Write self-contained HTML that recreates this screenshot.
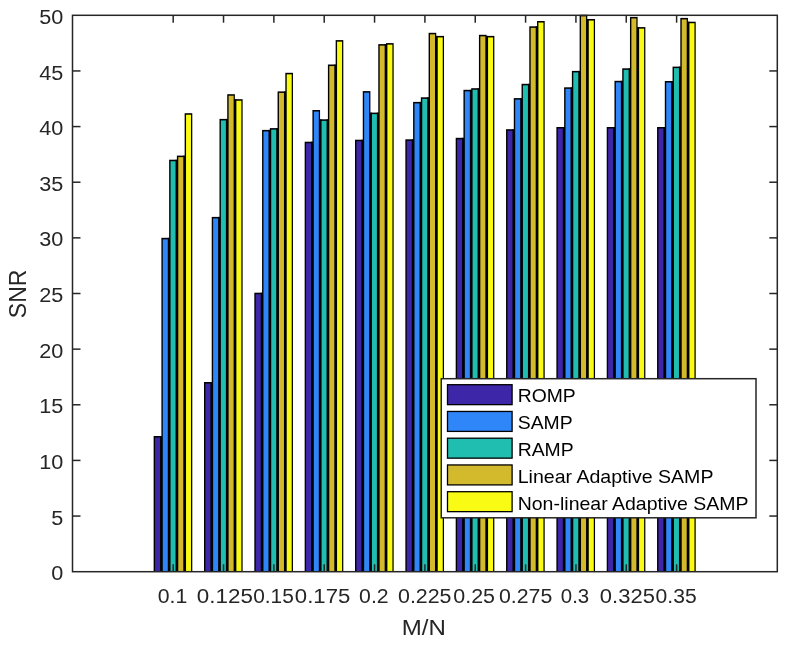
<!DOCTYPE html>
<html><head><meta charset="utf-8"><title>SNR vs M/N</title>
<style>html,body{margin:0;padding:0;background:#fff}svg{display:block;will-change:transform}text{font-family:"Liberation Sans",Arial,Helvetica,sans-serif}</style></head><body>
<svg width="788" height="645" viewBox="0 0 788 645">
<rect x="0" y="0" width="788" height="645" fill="#fff"/>
<g>
<rect x="153.64" y="436.00" width="7.65" height="135.70" fill="#000"/>
<rect x="160.04" y="436.00" width="2.75" height="135.70" fill="#000"/>
<rect x="161.39" y="237.80" width="7.65" height="333.90" fill="#000"/>
<rect x="167.79" y="237.80" width="2.75" height="333.90" fill="#000"/>
<rect x="169.14" y="159.70" width="7.65" height="412.00" fill="#000"/>
<rect x="175.54" y="159.70" width="2.75" height="412.00" fill="#000"/>
<rect x="176.89" y="155.60" width="7.65" height="416.10" fill="#000"/>
<rect x="183.29" y="155.60" width="2.75" height="416.10" fill="#000"/>
<rect x="184.64" y="113.20" width="7.65" height="458.50" fill="#000"/>
<rect x="155.04" y="437.55" width="5.00" height="134.15" fill="#3E26A8"/>
<rect x="162.79" y="239.35" width="5.00" height="332.35" fill="#2F86F8"/>
<rect x="170.54" y="161.25" width="5.00" height="410.45" fill="#1FBEB0"/>
<rect x="178.29" y="157.15" width="5.00" height="414.55" fill="#D2BA2C"/>
<rect x="186.04" y="114.75" width="5.00" height="456.95" fill="#F9FB15"/>
<rect x="203.98" y="382.00" width="7.65" height="189.70" fill="#000"/>
<rect x="210.38" y="382.00" width="2.75" height="189.70" fill="#000"/>
<rect x="211.73" y="216.90" width="7.65" height="354.80" fill="#000"/>
<rect x="218.13" y="216.90" width="2.75" height="354.80" fill="#000"/>
<rect x="219.48" y="118.90" width="7.65" height="452.80" fill="#000"/>
<rect x="225.88" y="118.90" width="2.75" height="452.80" fill="#000"/>
<rect x="227.23" y="94.20" width="7.65" height="477.50" fill="#000"/>
<rect x="233.63" y="99.20" width="2.75" height="472.50" fill="#000"/>
<rect x="234.98" y="99.20" width="7.65" height="472.50" fill="#000"/>
<rect x="205.38" y="383.55" width="5.00" height="188.15" fill="#3E26A8"/>
<rect x="213.13" y="218.45" width="5.00" height="353.25" fill="#2F86F8"/>
<rect x="220.88" y="120.45" width="5.00" height="451.25" fill="#1FBEB0"/>
<rect x="228.63" y="95.75" width="5.00" height="475.95" fill="#D2BA2C"/>
<rect x="236.38" y="100.75" width="5.00" height="470.95" fill="#F9FB15"/>
<rect x="254.32" y="292.70" width="7.65" height="279.00" fill="#000"/>
<rect x="260.72" y="292.70" width="2.75" height="279.00" fill="#000"/>
<rect x="262.07" y="129.90" width="7.65" height="441.80" fill="#000"/>
<rect x="268.47" y="129.90" width="2.75" height="441.80" fill="#000"/>
<rect x="269.82" y="128.10" width="7.65" height="443.60" fill="#000"/>
<rect x="276.22" y="128.10" width="2.75" height="443.60" fill="#000"/>
<rect x="277.57" y="91.40" width="7.65" height="480.30" fill="#000"/>
<rect x="283.97" y="91.40" width="2.75" height="480.30" fill="#000"/>
<rect x="285.32" y="72.80" width="7.65" height="498.90" fill="#000"/>
<rect x="255.72" y="294.25" width="5.00" height="277.45" fill="#3E26A8"/>
<rect x="263.47" y="131.45" width="5.00" height="440.25" fill="#2F86F8"/>
<rect x="271.22" y="129.65" width="5.00" height="442.05" fill="#1FBEB0"/>
<rect x="278.97" y="92.95" width="5.00" height="478.75" fill="#D2BA2C"/>
<rect x="286.72" y="74.35" width="5.00" height="497.35" fill="#F9FB15"/>
<rect x="304.66" y="141.70" width="7.65" height="430.00" fill="#000"/>
<rect x="311.06" y="141.70" width="2.75" height="430.00" fill="#000"/>
<rect x="312.41" y="110.00" width="7.65" height="461.70" fill="#000"/>
<rect x="318.81" y="119.30" width="2.75" height="452.40" fill="#000"/>
<rect x="320.16" y="119.30" width="7.65" height="452.40" fill="#000"/>
<rect x="326.56" y="119.30" width="2.75" height="452.40" fill="#000"/>
<rect x="327.91" y="64.50" width="7.65" height="507.20" fill="#000"/>
<rect x="334.31" y="64.50" width="2.75" height="507.20" fill="#000"/>
<rect x="335.66" y="40.10" width="7.65" height="531.60" fill="#000"/>
<rect x="306.06" y="143.25" width="5.00" height="428.45" fill="#3E26A8"/>
<rect x="313.81" y="111.55" width="5.00" height="460.15" fill="#2F86F8"/>
<rect x="321.56" y="120.85" width="5.00" height="450.85" fill="#1FBEB0"/>
<rect x="329.31" y="66.05" width="5.00" height="505.65" fill="#D2BA2C"/>
<rect x="337.06" y="41.65" width="5.00" height="530.05" fill="#F9FB15"/>
<rect x="355.01" y="139.70" width="7.65" height="432.00" fill="#000"/>
<rect x="361.41" y="139.70" width="2.75" height="432.00" fill="#000"/>
<rect x="362.76" y="91.10" width="7.65" height="480.60" fill="#000"/>
<rect x="369.16" y="112.60" width="2.75" height="459.10" fill="#000"/>
<rect x="370.51" y="112.60" width="7.65" height="459.10" fill="#000"/>
<rect x="376.91" y="112.60" width="2.75" height="459.10" fill="#000"/>
<rect x="378.26" y="44.10" width="7.65" height="527.60" fill="#000"/>
<rect x="384.66" y="44.10" width="2.75" height="527.60" fill="#000"/>
<rect x="386.01" y="43.10" width="7.65" height="528.60" fill="#000"/>
<rect x="356.41" y="141.25" width="5.00" height="430.45" fill="#3E26A8"/>
<rect x="364.16" y="92.65" width="5.00" height="479.05" fill="#2F86F8"/>
<rect x="371.91" y="114.15" width="5.00" height="457.55" fill="#1FBEB0"/>
<rect x="379.66" y="45.65" width="5.00" height="526.05" fill="#D2BA2C"/>
<rect x="387.41" y="44.65" width="5.00" height="527.05" fill="#F9FB15"/>
<rect x="405.35" y="139.30" width="7.65" height="432.40" fill="#000"/>
<rect x="411.75" y="139.30" width="2.75" height="432.40" fill="#000"/>
<rect x="413.10" y="101.90" width="7.65" height="469.80" fill="#000"/>
<rect x="419.50" y="101.90" width="2.75" height="469.80" fill="#000"/>
<rect x="420.85" y="97.30" width="7.65" height="474.40" fill="#000"/>
<rect x="427.25" y="97.30" width="2.75" height="474.40" fill="#000"/>
<rect x="428.60" y="32.80" width="7.65" height="538.90" fill="#000"/>
<rect x="435.00" y="35.90" width="2.75" height="535.80" fill="#000"/>
<rect x="436.35" y="35.90" width="7.65" height="535.80" fill="#000"/>
<rect x="406.75" y="140.85" width="5.00" height="430.85" fill="#3E26A8"/>
<rect x="414.50" y="103.45" width="5.00" height="468.25" fill="#2F86F8"/>
<rect x="422.25" y="98.85" width="5.00" height="472.85" fill="#1FBEB0"/>
<rect x="430.00" y="34.35" width="5.00" height="537.35" fill="#D2BA2C"/>
<rect x="437.75" y="37.45" width="5.00" height="534.25" fill="#F9FB15"/>
<rect x="455.69" y="137.80" width="7.65" height="433.90" fill="#000"/>
<rect x="462.09" y="137.80" width="2.75" height="433.90" fill="#000"/>
<rect x="463.44" y="89.80" width="7.65" height="481.90" fill="#000"/>
<rect x="469.84" y="89.80" width="2.75" height="481.90" fill="#000"/>
<rect x="471.19" y="88.20" width="7.65" height="483.50" fill="#000"/>
<rect x="477.59" y="88.20" width="2.75" height="483.50" fill="#000"/>
<rect x="478.94" y="34.80" width="7.65" height="536.90" fill="#000"/>
<rect x="485.34" y="35.90" width="2.75" height="535.80" fill="#000"/>
<rect x="486.69" y="35.90" width="7.65" height="535.80" fill="#000"/>
<rect x="457.09" y="139.35" width="5.00" height="432.35" fill="#3E26A8"/>
<rect x="464.84" y="91.35" width="5.00" height="480.35" fill="#2F86F8"/>
<rect x="472.59" y="89.75" width="5.00" height="481.95" fill="#1FBEB0"/>
<rect x="480.34" y="36.35" width="5.00" height="535.35" fill="#D2BA2C"/>
<rect x="488.09" y="37.45" width="5.00" height="534.25" fill="#F9FB15"/>
<rect x="506.04" y="129.20" width="7.65" height="442.50" fill="#000"/>
<rect x="512.44" y="129.20" width="2.75" height="442.50" fill="#000"/>
<rect x="513.79" y="98.10" width="7.65" height="473.60" fill="#000"/>
<rect x="520.19" y="98.10" width="2.75" height="473.60" fill="#000"/>
<rect x="521.54" y="83.80" width="7.65" height="487.90" fill="#000"/>
<rect x="527.94" y="83.80" width="2.75" height="487.90" fill="#000"/>
<rect x="529.29" y="26.30" width="7.65" height="545.40" fill="#000"/>
<rect x="535.69" y="26.30" width="2.75" height="545.40" fill="#000"/>
<rect x="537.04" y="21.00" width="7.65" height="550.70" fill="#000"/>
<rect x="507.44" y="130.75" width="5.00" height="440.95" fill="#3E26A8"/>
<rect x="515.19" y="99.65" width="5.00" height="472.05" fill="#2F86F8"/>
<rect x="522.94" y="85.35" width="5.00" height="486.35" fill="#1FBEB0"/>
<rect x="530.69" y="27.85" width="5.00" height="543.85" fill="#D2BA2C"/>
<rect x="538.44" y="22.55" width="5.00" height="549.15" fill="#F9FB15"/>
<rect x="556.38" y="127.00" width="7.65" height="444.70" fill="#000"/>
<rect x="562.78" y="127.00" width="2.75" height="444.70" fill="#000"/>
<rect x="564.13" y="87.30" width="7.65" height="484.40" fill="#000"/>
<rect x="570.53" y="87.30" width="2.75" height="484.40" fill="#000"/>
<rect x="571.88" y="70.90" width="7.65" height="500.80" fill="#000"/>
<rect x="578.28" y="70.90" width="2.75" height="500.80" fill="#000"/>
<rect x="579.63" y="14.80" width="7.65" height="556.90" fill="#000"/>
<rect x="586.03" y="19.00" width="2.75" height="552.70" fill="#000"/>
<rect x="587.38" y="19.00" width="7.65" height="552.70" fill="#000"/>
<rect x="557.78" y="128.55" width="5.00" height="443.15" fill="#3E26A8"/>
<rect x="565.53" y="88.85" width="5.00" height="482.85" fill="#2F86F8"/>
<rect x="573.28" y="72.45" width="5.00" height="499.25" fill="#1FBEB0"/>
<rect x="581.03" y="16.35" width="5.00" height="555.35" fill="#D2BA2C"/>
<rect x="588.78" y="20.55" width="5.00" height="551.15" fill="#F9FB15"/>
<rect x="606.72" y="127.00" width="7.65" height="444.70" fill="#000"/>
<rect x="613.12" y="127.00" width="2.75" height="444.70" fill="#000"/>
<rect x="614.47" y="80.80" width="7.65" height="490.90" fill="#000"/>
<rect x="620.87" y="80.80" width="2.75" height="490.90" fill="#000"/>
<rect x="622.22" y="68.30" width="7.65" height="503.40" fill="#000"/>
<rect x="628.62" y="68.30" width="2.75" height="503.40" fill="#000"/>
<rect x="629.97" y="16.90" width="7.65" height="554.80" fill="#000"/>
<rect x="636.37" y="27.10" width="2.75" height="544.60" fill="#000"/>
<rect x="637.72" y="27.10" width="7.65" height="544.60" fill="#000"/>
<rect x="608.12" y="128.55" width="5.00" height="443.15" fill="#3E26A8"/>
<rect x="615.87" y="82.35" width="5.00" height="489.35" fill="#2F86F8"/>
<rect x="623.62" y="69.85" width="5.00" height="501.85" fill="#1FBEB0"/>
<rect x="631.37" y="18.45" width="5.00" height="553.25" fill="#D2BA2C"/>
<rect x="639.12" y="28.65" width="5.00" height="543.05" fill="#F9FB15"/>
<rect x="657.06" y="127.00" width="7.65" height="444.70" fill="#000"/>
<rect x="663.46" y="127.00" width="2.75" height="444.70" fill="#000"/>
<rect x="664.81" y="81.00" width="7.65" height="490.70" fill="#000"/>
<rect x="671.21" y="81.00" width="2.75" height="490.70" fill="#000"/>
<rect x="672.56" y="66.60" width="7.65" height="505.10" fill="#000"/>
<rect x="678.96" y="66.60" width="2.75" height="505.10" fill="#000"/>
<rect x="680.31" y="17.90" width="7.65" height="553.80" fill="#000"/>
<rect x="686.71" y="21.70" width="2.75" height="550.00" fill="#000"/>
<rect x="688.06" y="21.70" width="7.65" height="550.00" fill="#000"/>
<rect x="658.46" y="128.55" width="5.00" height="443.15" fill="#3E26A8"/>
<rect x="666.21" y="82.55" width="5.00" height="489.15" fill="#2F86F8"/>
<rect x="673.96" y="68.15" width="5.00" height="503.55" fill="#1FBEB0"/>
<rect x="681.71" y="19.45" width="5.00" height="552.25" fill="#D2BA2C"/>
<rect x="689.46" y="23.25" width="5.00" height="548.45" fill="#F9FB15"/>
</g>
<g stroke="#262626" stroke-width="1.5" fill="none">
<rect x="72.50" y="15.30" width="704.80" height="556.40"/>
<line x1="173.19" y1="571.70" x2="173.19" y2="564.30"/>
<line x1="173.19" y1="15.30" x2="173.19" y2="22.70"/>
<line x1="223.53" y1="571.70" x2="223.53" y2="564.30"/>
<line x1="223.53" y1="15.30" x2="223.53" y2="22.70"/>
<line x1="273.87" y1="571.70" x2="273.87" y2="564.30"/>
<line x1="273.87" y1="15.30" x2="273.87" y2="22.70"/>
<line x1="324.21" y1="571.70" x2="324.21" y2="564.30"/>
<line x1="324.21" y1="15.30" x2="324.21" y2="22.70"/>
<line x1="374.56" y1="571.70" x2="374.56" y2="564.30"/>
<line x1="374.56" y1="15.30" x2="374.56" y2="22.70"/>
<line x1="424.90" y1="571.70" x2="424.90" y2="564.30"/>
<line x1="424.90" y1="15.30" x2="424.90" y2="22.70"/>
<line x1="475.24" y1="571.70" x2="475.24" y2="564.30"/>
<line x1="475.24" y1="15.30" x2="475.24" y2="22.70"/>
<line x1="525.59" y1="571.70" x2="525.59" y2="564.30"/>
<line x1="525.59" y1="15.30" x2="525.59" y2="22.70"/>
<line x1="575.93" y1="571.70" x2="575.93" y2="564.30"/>
<line x1="575.93" y1="15.30" x2="575.93" y2="22.70"/>
<line x1="626.27" y1="571.70" x2="626.27" y2="564.30"/>
<line x1="626.27" y1="15.30" x2="626.27" y2="22.70"/>
<line x1="676.61" y1="571.70" x2="676.61" y2="564.30"/>
<line x1="676.61" y1="15.30" x2="676.61" y2="22.70"/>
<line x1="72.50" y1="516.06" x2="80.50" y2="516.06"/>
<line x1="777.30" y1="516.06" x2="769.30" y2="516.06"/>
<line x1="72.50" y1="460.42" x2="80.50" y2="460.42"/>
<line x1="777.30" y1="460.42" x2="769.30" y2="460.42"/>
<line x1="72.50" y1="404.78" x2="80.50" y2="404.78"/>
<line x1="777.30" y1="404.78" x2="769.30" y2="404.78"/>
<line x1="72.50" y1="349.14" x2="80.50" y2="349.14"/>
<line x1="777.30" y1="349.14" x2="769.30" y2="349.14"/>
<line x1="72.50" y1="293.50" x2="80.50" y2="293.50"/>
<line x1="777.30" y1="293.50" x2="769.30" y2="293.50"/>
<line x1="72.50" y1="237.86" x2="80.50" y2="237.86"/>
<line x1="777.30" y1="237.86" x2="769.30" y2="237.86"/>
<line x1="72.50" y1="182.22" x2="80.50" y2="182.22"/>
<line x1="777.30" y1="182.22" x2="769.30" y2="182.22"/>
<line x1="72.50" y1="126.58" x2="80.50" y2="126.58"/>
<line x1="777.30" y1="126.58" x2="769.30" y2="126.58"/>
<line x1="72.50" y1="70.94" x2="80.50" y2="70.94"/>
<line x1="777.30" y1="70.94" x2="769.30" y2="70.94"/>
</g>
<g fill="#262626" font-size="20.83">
<text transform="translate(157.69,602.60) scale(1.0200,1.0000)" text-anchor="start">0.1</text>
<text transform="translate(196.84,602.60) scale(1.0752,1.0000)" text-anchor="start">0.125</text>
<text transform="translate(253.20,602.60) scale(1.0026,1.0000)" text-anchor="start">0.15</text>
<text transform="translate(294.85,602.60) scale(1.0634,1.0000)" text-anchor="start">0.175</text>
<text transform="translate(359.08,602.60) scale(1.0202,1.0000)" text-anchor="start">0.2</text>
<text transform="translate(397.98,602.60) scale(1.0277,1.0000)" text-anchor="start">0.225</text>
<text transform="translate(453.28,602.60) scale(1.0308,1.0000)" text-anchor="start">0.25</text>
<text transform="translate(498.98,602.60) scale(1.0238,1.0000)" text-anchor="start">0.275</text>
<text transform="translate(560.82,602.60) scale(0.9798,1.0000)" text-anchor="start">0.3</text>
<text transform="translate(599.86,602.60) scale(1.0554,1.0000)" text-anchor="start">0.325</text>
<text transform="translate(655.59,602.60) scale(1.0128,1.0000)" text-anchor="start">0.35</text>
<text transform="translate(51.22,580.30) scale(1.0400,1.0000)" text-anchor="start">0</text>
<text transform="translate(51.22,524.66) scale(1.0400,1.0000)" text-anchor="start">5</text>
<text transform="translate(39.26,469.02) scale(1.0400,1.0000)" text-anchor="start">10</text>
<text transform="translate(39.26,413.38) scale(1.0400,1.0000)" text-anchor="start">15</text>
<text transform="translate(39.26,357.74) scale(1.0400,1.0000)" text-anchor="start">20</text>
<text transform="translate(39.26,302.10) scale(1.0400,1.0000)" text-anchor="start">25</text>
<text transform="translate(39.26,246.46) scale(1.0400,1.0000)" text-anchor="start">30</text>
<text transform="translate(39.26,190.82) scale(1.0400,1.0000)" text-anchor="start">35</text>
<text transform="translate(39.26,135.18) scale(1.0400,1.0000)" text-anchor="start">40</text>
<text transform="translate(39.26,79.54) scale(1.0400,1.0000)" text-anchor="start">45</text>
<text transform="translate(39.26,23.90) scale(1.0400,1.0000)" text-anchor="start">50</text>
</g>
<g fill="#262626" font-size="22.90">
<text transform="translate(401.75,635.20) scale(1.0500,1.0000)" text-anchor="start">M/N</text>
<text transform="translate(26.00,318.16) rotate(-90) scale(1.0054,1.0460)" text-anchor="start">SNR</text>
</g>
<rect x="441.25" y="378.70" width="314.75" height="139.10" fill="#fff" stroke="#262626" stroke-width="1.5"/>
<g font-size="18.75" fill="#000">
<rect x="447.50" y="384.70" width="64.60" height="19.95" fill="#3E26A8" stroke="#000" stroke-width="1.3"/>
<text transform="translate(517.70,402.40) scale(1.0310,1.0000)" text-anchor="start">ROMP</text>
<rect x="447.50" y="411.45" width="64.60" height="19.95" fill="#2F86F8" stroke="#000" stroke-width="1.3"/>
<text transform="translate(517.70,429.20) scale(1.0340,1.0000)" text-anchor="start">SAMP</text>
<rect x="447.50" y="438.20" width="64.60" height="19.95" fill="#1FBEB0" stroke="#000" stroke-width="1.3"/>
<text transform="translate(517.70,456.00) scale(1.0340,1.0000)" text-anchor="start">RAMP</text>
<rect x="447.50" y="464.95" width="64.60" height="19.95" fill="#D2BA2C" stroke="#000" stroke-width="1.3"/>
<text transform="translate(517.68,482.80) scale(1.0440,1.0000)" text-anchor="start">Linear Adaptive SAMP</text>
<rect x="447.50" y="491.70" width="64.60" height="19.95" fill="#F9FB15" stroke="#000" stroke-width="1.3"/>
<text transform="translate(517.69,509.60) scale(1.0410,1.0000)" text-anchor="start">Non-linear Adaptive SAMP</text>
</g>
</svg></body></html>
